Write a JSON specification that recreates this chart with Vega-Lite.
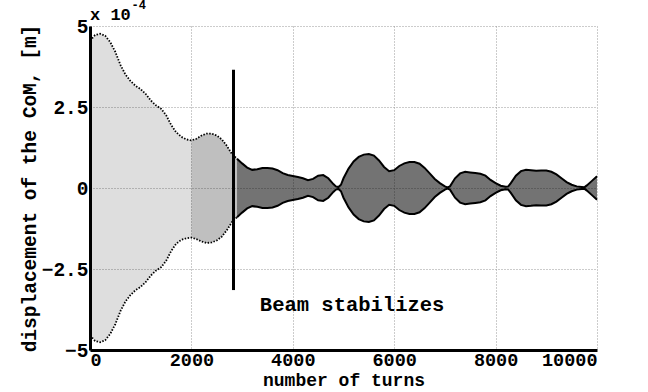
{
  "$schema": "https://vega.github.io/schema/vega-lite/v6.json",
  "autosize": {"type": "none"},
  "width": 507,
  "height": 324,
  "padding": {"left": 90, "top": 26, "right": 51, "bottom": 42},
  "background": "white",
  "config": {
    "view": {"stroke": null},
    "font": "Liberation Mono",
    "axis": {
      "labelFont": "Liberation Mono",
      "labelFontWeight": "bold",
      "labelFontSize": 19.5,
      "labelColor": "black",
      "titleFont": "Liberation Mono",
      "titleFontWeight": "bold",
      "titleFontSize": 19.5,
      "titleColor": "black",
      "domainColor": "black",
      "domainWidth": 3,
      "ticks": false,
      "gridColor": "#999999",
      "gridDash": [1, 2],
      "gridWidth": 1,
      "labelBound": false,
      "labelOverlap": false
    }
  },
  "datasets": {
    "env": [
      {"turn": 0, "hi": 4.55, "lo": -4.55},
      {"turn": 100, "hi": 4.72, "lo": -4.72},
      {"turn": 200, "hi": 4.76, "lo": -4.76},
      {"turn": 300, "hi": 4.7, "lo": -4.7},
      {"turn": 400, "hi": 4.5, "lo": -4.5},
      {"turn": 500, "hi": 4.2, "lo": -4.2},
      {"turn": 600, "hi": 3.8, "lo": -3.8},
      {"turn": 700, "hi": 3.5, "lo": -3.5},
      {"turn": 800, "hi": 3.3, "lo": -3.3},
      {"turn": 900, "hi": 3.15, "lo": -3.15},
      {"turn": 1000, "hi": 3.05, "lo": -3.05},
      {"turn": 1100, "hi": 2.9, "lo": -2.9},
      {"turn": 1200, "hi": 2.7, "lo": -2.7},
      {"turn": 1300, "hi": 2.55, "lo": -2.55},
      {"turn": 1400, "hi": 2.45, "lo": -2.45},
      {"turn": 1500, "hi": 2.25, "lo": -2.25},
      {"turn": 1600, "hi": 1.95, "lo": -1.95},
      {"turn": 1700, "hi": 1.72, "lo": -1.72},
      {"turn": 1800, "hi": 1.58, "lo": -1.6},
      {"turn": 1900, "hi": 1.5, "lo": -1.55},
      {"turn": 2000, "hi": 1.47, "lo": -1.53},
      {"turn": 2100, "hi": 1.52, "lo": -1.58},
      {"turn": 2200, "hi": 1.62, "lo": -1.65},
      {"turn": 2300, "hi": 1.68, "lo": -1.7},
      {"turn": 2400, "hi": 1.68, "lo": -1.68},
      {"turn": 2500, "hi": 1.62, "lo": -1.62},
      {"turn": 2600, "hi": 1.5, "lo": -1.5},
      {"turn": 2700, "hi": 1.3, "lo": -1.3},
      {"turn": 2800, "hi": 1.05, "lo": -1.05},
      {"turn": 2900, "hi": 0.9, "lo": -0.9},
      {"turn": 3000, "hi": 0.76, "lo": -0.76},
      {"turn": 3100, "hi": 0.63, "lo": -0.63},
      {"turn": 3200, "hi": 0.56, "lo": -0.56},
      {"turn": 3300, "hi": 0.58, "lo": -0.58},
      {"turn": 3400, "hi": 0.62, "lo": -0.62},
      {"turn": 3500, "hi": 0.62, "lo": -0.62},
      {"turn": 3600, "hi": 0.6, "lo": -0.6},
      {"turn": 3700, "hi": 0.55, "lo": -0.55},
      {"turn": 3800, "hi": 0.46, "lo": -0.46},
      {"turn": 3900, "hi": 0.4, "lo": -0.4},
      {"turn": 4000, "hi": 0.37, "lo": -0.37},
      {"turn": 4100, "hi": 0.34, "lo": -0.34},
      {"turn": 4200, "hi": 0.3, "lo": -0.3},
      {"turn": 4300, "hi": 0.24, "lo": -0.24},
      {"turn": 4400, "hi": 0.28, "lo": -0.28},
      {"turn": 4500, "hi": 0.38, "lo": -0.38},
      {"turn": 4600, "hi": 0.4, "lo": -0.4},
      {"turn": 4700, "hi": 0.3, "lo": -0.3},
      {"turn": 4800, "hi": 0.12, "lo": -0.12},
      {"turn": 4850, "hi": 0.05, "lo": -0.05},
      {"turn": 4900, "hi": 0.03, "lo": -0.03},
      {"turn": 4950, "hi": 0.1, "lo": -0.1},
      {"turn": 5000, "hi": 0.3, "lo": -0.3},
      {"turn": 5100, "hi": 0.6, "lo": -0.6},
      {"turn": 5200, "hi": 0.82, "lo": -0.82},
      {"turn": 5300, "hi": 0.96, "lo": -0.96},
      {"turn": 5400, "hi": 1.03, "lo": -1.03},
      {"turn": 5500, "hi": 1.05, "lo": -1.05},
      {"turn": 5600, "hi": 1.0, "lo": -1.0},
      {"turn": 5700, "hi": 0.85, "lo": -0.85},
      {"turn": 5800, "hi": 0.65, "lo": -0.65},
      {"turn": 5900, "hi": 0.52, "lo": -0.52},
      {"turn": 6000, "hi": 0.55, "lo": -0.55},
      {"turn": 6100, "hi": 0.68, "lo": -0.68},
      {"turn": 6200, "hi": 0.76, "lo": -0.76},
      {"turn": 6300, "hi": 0.8, "lo": -0.8},
      {"turn": 6400, "hi": 0.8, "lo": -0.8},
      {"turn": 6500, "hi": 0.75, "lo": -0.75},
      {"turn": 6600, "hi": 0.62, "lo": -0.62},
      {"turn": 6700, "hi": 0.45, "lo": -0.45},
      {"turn": 6800, "hi": 0.28, "lo": -0.28},
      {"turn": 6900, "hi": 0.15, "lo": -0.15},
      {"turn": 7000, "hi": 0.05, "lo": -0.05},
      {"turn": 7050, "hi": 0.02, "lo": -0.02},
      {"turn": 7100, "hi": 0.05, "lo": -0.05},
      {"turn": 7200, "hi": 0.3, "lo": -0.3},
      {"turn": 7300, "hi": 0.45, "lo": -0.45},
      {"turn": 7400, "hi": 0.5, "lo": -0.5},
      {"turn": 7500, "hi": 0.48, "lo": -0.48},
      {"turn": 7600, "hi": 0.46, "lo": -0.46},
      {"turn": 7700, "hi": 0.44, "lo": -0.44},
      {"turn": 7800, "hi": 0.38, "lo": -0.38},
      {"turn": 7900, "hi": 0.25, "lo": -0.25},
      {"turn": 8000, "hi": 0.15, "lo": -0.15},
      {"turn": 8100, "hi": 0.07, "lo": -0.07},
      {"turn": 8200, "hi": 0.04, "lo": -0.04},
      {"turn": 8250, "hi": 0.05, "lo": -0.05},
      {"turn": 8300, "hi": 0.15, "lo": -0.15},
      {"turn": 8400, "hi": 0.38, "lo": -0.38},
      {"turn": 8500, "hi": 0.52, "lo": -0.52},
      {"turn": 8600, "hi": 0.56, "lo": -0.56},
      {"turn": 8700, "hi": 0.55, "lo": -0.55},
      {"turn": 8800, "hi": 0.53, "lo": -0.53},
      {"turn": 8900, "hi": 0.54, "lo": -0.54},
      {"turn": 9000, "hi": 0.54, "lo": -0.54},
      {"turn": 9100, "hi": 0.5, "lo": -0.5},
      {"turn": 9200, "hi": 0.42, "lo": -0.42},
      {"turn": 9300, "hi": 0.3, "lo": -0.3},
      {"turn": 9400, "hi": 0.18, "lo": -0.18},
      {"turn": 9500, "hi": 0.1, "lo": -0.1},
      {"turn": 9600, "hi": 0.05, "lo": -0.05},
      {"turn": 9700, "hi": 0.03, "lo": -0.03},
      {"turn": 9750, "hi": 0.02, "lo": -0.02},
      {"turn": 9800, "hi": 0.08, "lo": -0.08},
      {"turn": 9900, "hi": 0.22, "lo": -0.22},
      {"turn": 10000, "hi": 0.36, "lo": -0.36}
    ],
    "marker": [{"turn": 2830, "top": 3.65, "bottom": -3.15}],
    "notes": [
      {"turn": 5170, "y": -3.6, "label": "Beam stabilizes"}
    ]
  },
  "encoding": {
    "x": {
      "field": "turn",
      "type": "quantitative",
      "scale": {"domain": [0, 10000], "nice": false, "zero": false},
      "axis": {
        "values": [0, 2000, 4000, 6000, 8000, 10000],
        "format": "d",
        "title": "number of turns",
        "labelFontSize": 18.5,
        "labelPadding": 0,
        "titleFontSize": 18,
        "titlePadding": 3,
        "grid": true
      }
    }
  },
  "layer": [
    {
      "data": {"name": "env"},
      "transform": [{"filter": "datum.turn <= 2000"}],
      "mark": {"type": "area", "color": "black", "opacity": 0.13},
      "encoding": {
        "y": {
          "field": "hi",
          "type": "quantitative",
          "scale": {"domain": [-5, 5], "nice": false},
          "axis": {
            "values": [-5, -2.5, 0, 2.5, 5],
            "format": ".1~f",
            "title": "displacement of the CoM, [m]",
            "labelPadding": 2,
            "titlePadding": 2,
            "grid": true
          }
        },
        "y2": {"field": "lo"}
      }
    },
    {
      "data": {"name": "env"},
      "transform": [{"filter": "datum.turn >= 2000 && datum.turn <= 2900"}],
      "mark": {"type": "area", "color": "black", "opacity": 0.25},
      "encoding": {
        "y": {"field": "hi", "type": "quantitative"},
        "y2": {"field": "lo"}
      }
    },
    {
      "data": {"name": "env"},
      "transform": [{"filter": "datum.turn >= 2900"}],
      "mark": {"type": "area", "color": "black", "opacity": 0.55},
      "encoding": {
        "y": {"field": "hi", "type": "quantitative"},
        "y2": {"field": "lo"}
      }
    },
    {
      "data": {"name": "env"},
      "transform": [{"filter": "datum.turn <= 2900"}],
      "mark": {"type": "line", "color": "black", "strokeWidth": 1.8, "strokeDash": [1.5, 1.5]},
      "encoding": {"y": {"field": "hi", "type": "quantitative"}}
    },
    {
      "data": {"name": "env"},
      "transform": [{"filter": "datum.turn <= 2900"}],
      "mark": {"type": "line", "color": "black", "strokeWidth": 1.8, "strokeDash": [1.5, 1.5]},
      "encoding": {"y": {"field": "lo", "type": "quantitative"}}
    },
    {
      "data": {"name": "env"},
      "transform": [{"filter": "datum.turn >= 2900"}],
      "mark": {"type": "line", "color": "black", "strokeWidth": 2},
      "encoding": {"y": {"field": "hi", "type": "quantitative"}}
    },
    {
      "data": {"name": "env"},
      "transform": [{"filter": "datum.turn >= 2900"}],
      "mark": {"type": "line", "color": "black", "strokeWidth": 2},
      "encoding": {"y": {"field": "lo", "type": "quantitative"}}
    },
    {
      "data": {"name": "marker"},
      "mark": {"type": "rule", "color": "black", "strokeWidth": 3},
      "encoding": {
        "y": {"field": "top", "type": "quantitative"},
        "y2": {"field": "bottom"}
      }
    },
    {
      "data": {"name": "notes"},
      "mark": {"type": "text", "font": "Liberation Mono", "fontWeight": "bold", "fontSize": 20.5, "color": "black", "align": "center", "baseline": "middle"},
      "encoding": {
        "y": {"field": "y", "type": "quantitative"},
        "text": {"field": "label"}
      }
    },
    {
      "data": {"values": [{"turn": 0, "y": 5.34, "label": "x 10"}]},
      "mark": {"type": "text", "font": "Liberation Mono", "fontWeight": "bold", "fontSize": 17, "color": "black", "align": "left", "baseline": "middle"},
      "encoding": {
        "y": {"field": "y", "type": "quantitative"},
        "text": {"field": "label"}
      }
    },
    {
      "data": {"values": [{"turn": 820, "y": 5.66, "label": "-4"}]},
      "mark": {"type": "text", "font": "Liberation Mono", "fontWeight": "bold", "fontSize": 12, "color": "black", "align": "left", "baseline": "middle"},
      "encoding": {
        "y": {"field": "y", "type": "quantitative"},
        "text": {"field": "label"}
      }
    }
  ]
}
